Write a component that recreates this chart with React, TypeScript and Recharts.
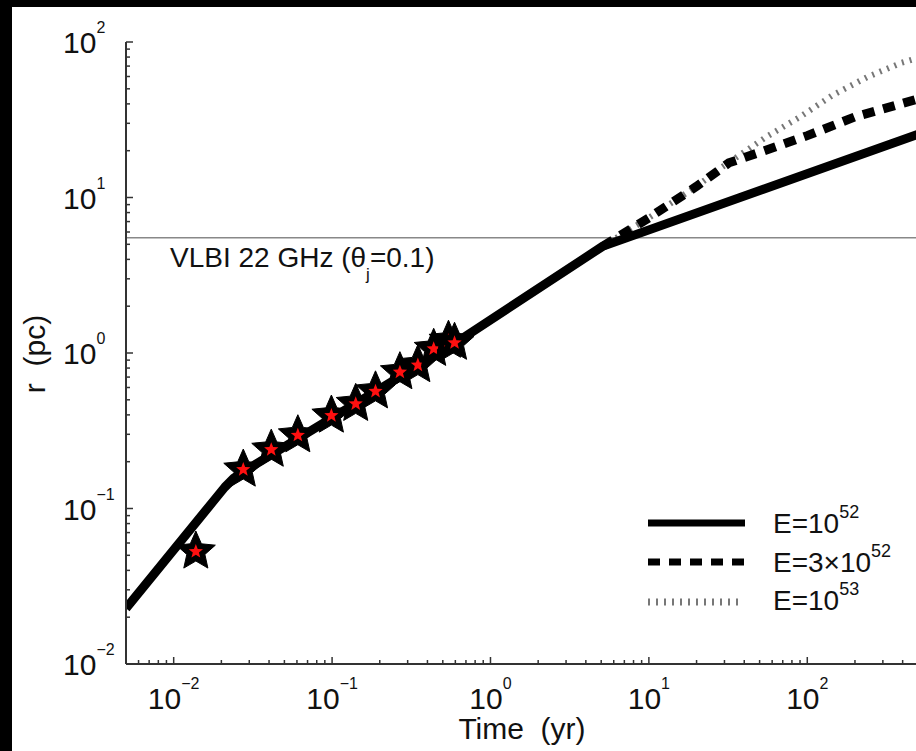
import React from "react";
import { ComposedChart, Line, Scatter, XAxis, YAxis, ReferenceLine, Legend } from "recharts";

// model curves, r (pc) vs time (yr)
const solidT = [0.005, 0.018, 0.021, 0.024, 0.028, 0.6, 5.1, 500];
const solidR = [0.0228, 0.113, 0.137, 0.157, 0.174, 1.16, 4.85, 25.5];

const dashT = [5.1, 10, 20, 32, 60, 100, 200, 500];
const dashR = [4.85, 7.4, 11.8, 16.7, 20.8, 25, 33, 43];

const dotT = [5.1, 10, 20, 29, 55, 90, 145, 240, 390, 500];
const dotR = [4.85, 7.4, 11.8, 15.7, 24.5, 33, 45.6, 59.6, 73.3, 79];

// observed sizes
const starT = [0.0138, 0.0275, 0.0413, 0.0608, 0.099, 0.141, 0.188, 0.268, 0.348, 0.438, 0.543, 0.593];
const starR = [0.0529, 0.178, 0.239, 0.296, 0.396, 0.471, 0.567, 0.753, 0.836, 1.064, 1.2, 1.164];

const vlbiR = 5.5;

const xMajor = [0.01, 0.1, 1, 10, 100];
const xExp = ["\u22122", "\u22121", "0", "1", "2"];
const yMajor = [0.01, 0.1, 1, 10, 100];
const yExp = ["\u22122", "\u22121", "0", "1", "2"];
const decades = [0.001, 0.01, 0.1, 1, 10, 100];

const legendNames = ["E=10", "E=3\u00d710", "E=10"];
const legendExp = ["52", "52", "53"];

const FONT = "'Liberation Sans', Arial, Helvetica, sans-serif";
const AXIS = "#333";

const toRows = (t: number[], r: number[]) => t.map((v, i) => ({ t: v, r: r[i] }));
const solidData = toRows(solidT, solidR);
const dashData = toRows(dashT, dashR);
const dotData = toRows(dotT, dotR);
const starData = toRows(starT, starR);

function tickValues(lo: number, hi: number) {
  const out: number[] = [];
  for (const d of decades) {
    for (let m = 1; m <= 9; m++) {
      const v = Number((d * m).toPrecision(6));
      if (v >= lo * 0.999999 && v <= hi * 1.000001) out.push(v);
    }
  }
  return out;
}
const xTicks = tickValues(0.005, 500);
const yTicks = tickValues(0.01, 100);

const majorIndex = (v: number, majors: number[]) => majors.findIndex((m) => Math.abs(v / m - 1) < 1e-6);

const BottomTick = (props: any) => {
  const { x, y, payload } = props;
  const i = majorIndex(payload.value, xMajor);
  return (
    <g>
      <line x1={x} x2={x} y1={y} y2={y - (i >= 0 ? 7 : 4)} stroke={AXIS} strokeWidth={1.5} />
      {i >= 0 && (
        <text x={x} y={y + 45} textAnchor="middle" fontSize={30} fontFamily={FONT} fill="#111">
          10<tspan dy={-20} fontSize={16}>{xExp[i]}</tspan>
        </text>
      )}
    </g>
  );
};

const TopTick = (props: any) => {
  const { x, y, payload } = props;
  const i = majorIndex(payload.value, xMajor);
  return <line x1={x} x2={x} y1={y} y2={y + (i >= 0 ? 7 : 4)} stroke={AXIS} strokeWidth={1.5} />;
};

const LeftTick = (props: any) => {
  const { x, y, payload } = props;
  const i = majorIndex(payload.value, yMajor);
  return (
    <g>
      <line x1={x} x2={x + (i >= 0 ? 7 : 4)} y1={y} y2={y} stroke={AXIS} strokeWidth={1.5} />
      {i >= 0 && (
        <text x={x - 63} y={y + 11} textAnchor="start" fontSize={30} fontFamily={FONT} fill="#111">
          10<tspan dy={-20} fontSize={16}>{yExp[i]}</tspan>
        </text>
      )}
    </g>
  );
};

const RightTick = (props: any) => {
  const { x, y, payload } = props;
  const i = majorIndex(payload.value, yMajor);
  return <line x1={x} x2={x - (i >= 0 ? 7 : 4)} y1={y} y2={y} stroke={AXIS} strokeWidth={1.5} />;
};

const starPath = (cx: number, cy: number, R: number, r: number) => {
  let d = "";
  for (let k = 0; k < 10; k++) {
    const a = -Math.PI / 2 + (k * Math.PI) / 5;
    const rad = k % 2 === 0 ? R : r;
    d += (k ? "L" : "M") + (cx + rad * Math.cos(a)).toFixed(2) + "," + (cy + rad * Math.sin(a)).toFixed(2);
  }
  return d + "Z";
};

const StarShape = (props: any) => {
  const { cx, cy } = props;
  if (cx == null || cy == null) return null;
  return (
    <g>
      <path d={starPath(cx, cy, 20.5, 9.5)} fill="#000" stroke="#000" strokeWidth={1} strokeLinejoin="miter" />
      <path d={starPath(cx, cy, 7.5, 3.2)} fill="#ff1010" />
    </g>
  );
};

const LegendBox = () => (
  <svg width={270} height={120} style={{ display: "block" }}>
    <line x1={8} x2={105} y1={23} y2={23} stroke="#000" strokeWidth={7} />
    <line x1={8} x2={105} y1={62} y2={62} stroke="#000" strokeWidth={7} strokeDasharray="12 9" />
    <line x1={8} x2={99} y1={102} y2={102} stroke="#777" strokeWidth={7} strokeDasharray="2 6" />
    {legendNames.map((n, i) => (
      <text key={i} x={133} y={33 + i * 38.5} fontSize={28} fontFamily={FONT} fill="#111">
        {n}
        <tspan dy={-15} fontSize={18}>{legendExp[i]}</tspan>
      </text>
    ))}
  </svg>
);

const VlbiLabel = (props: any) => {
  const vb = props.viewBox || {};
  return (
    <text x={vb.x + 44} y={vb.y + 29} fontSize={28} fontFamily={FONT} fill="#111">
      VLBI 22 GHz (θ<tspan dy={13} fontSize={17}>j</tspan>
      <tspan dy={-13} fontSize={28}>=0.1)</tspan>
    </text>
  );
};

const XTitle = (props: any) => {
  const vb = props.viewBox || {};
  return (
    <text x={vb.x + vb.width / 2} y={vb.y + 75} textAnchor="middle" fontSize={30} fontFamily={FONT} fill="#111" style={{ whiteSpace: "pre" }}>
      {"Time  (yr)"}
    </text>
  );
};

const YTitle = (props: any) => {
  const vb = props.viewBox || {};
  const cx = vb.x + 33;
  const cy = vb.y + vb.height / 2 + 1;
  return (
    <text x={cx} y={cy} transform={`rotate(-90, ${cx}, ${cy})`} textAnchor="middle" fontSize={30} fontFamily={FONT} fill="#111" style={{ whiteSpace: "pre" }}>
      {"r  (pc)"}
    </text>
  );
};

const App = () => {
  return (
    <div style={{ position: "absolute", left: 0, top: 0, width: 916, height: 751, background: "#000", overflow: "hidden" }}>
      <div style={{ position: "absolute", left: 12, top: 7, width: 910, height: 744, background: "#fff" }}>
        <ComposedChart width={910} height={744} margin={{ top: 35, right: 4, bottom: 0, left: 0 }}>
          <XAxis
            xAxisId="bottom"
            dataKey="t"
            type="number"
            scale="log"
            domain={[0.005, 500]}
            allowDataOverflow
            ticks={xTicks}
            interval={0}
            tickSize={0}
            tickMargin={0}
            tick={<BottomTick />}
            tickLine={false}
            axisLine={{ stroke: AXIS, strokeWidth: 2 }}
            height={87}
            label={{ content: <XTitle /> }}
          />
          <XAxis
            xAxisId="top"
            orientation="top"
            dataKey="t"
            type="number"
            scale="log"
            domain={[0.005, 500]}
            allowDataOverflow
            ticks={xTicks}
            interval={0}
            tickSize={0}
            tickMargin={0}
            tick={<TopTick />}
            tickLine={false}
            axisLine={{ stroke: AXIS, strokeWidth: 2 }}
            height={0}
          />
          <YAxis
            yAxisId="left"
            dataKey="r"
            type="number"
            scale="log"
            domain={[0.01, 100]}
            allowDataOverflow
            ticks={yTicks}
            interval={0}
            tickSize={0}
            tickMargin={0}
            tick={<LeftTick />}
            tickLine={false}
            axisLine={{ stroke: AXIS, strokeWidth: 2 }}
            width={114}
            label={{ content: <YTitle /> }}
          />
          <YAxis
            yAxisId="right"
            orientation="right"
            dataKey="r"
            type="number"
            scale="log"
            domain={[0.01, 100]}
            allowDataOverflow
            ticks={yTicks}
            interval={0}
            tickSize={0}
            tickMargin={0}
            tick={<RightTick />}
            tickLine={false}
            axisLine={{ stroke: AXIS, strokeWidth: 2 }}
            width={0}
          />
          <ReferenceLine
            xAxisId="bottom"
            yAxisId="left"
            y={vlbiR}
            stroke="#888"
            strokeWidth={1.5}
            label={<VlbiLabel />}
          />
          <Line
            xAxisId="bottom"
            yAxisId="left"
            data={dotData}
            dataKey="r"
            type="linear"
            stroke="#777"
            strokeWidth={6}
            strokeDasharray="2 6"
            dot={false}
            activeDot={false}
            isAnimationActive={false}
          />
          <Line
            xAxisId="bottom"
            yAxisId="left"
            data={solidData}
            dataKey="r"
            type="linear"
            stroke="#000"
            strokeWidth={9}
            strokeLinejoin="round"
            dot={false}
            activeDot={false}
            isAnimationActive={false}
          />
          <Line
            xAxisId="bottom"
            yAxisId="left"
            data={dashData}
            dataKey="r"
            type="linear"
            stroke="#000"
            strokeWidth={9}
            strokeDasharray="12 9"
            dot={false}
            activeDot={false}
            isAnimationActive={false}
          />
          <Scatter
            xAxisId="bottom"
            yAxisId="left"
            data={starData}
            dataKey="r"
            shape={<StarShape />}
            isAnimationActive={false}
          />
          <Legend
            layout="vertical"
            align="center"
            verticalAlign="middle"
            wrapperStyle={{ left: 628, top: 493, width: 270, height: 120 }}
            content={() => <LegendBox />}
          />
        </ComposedChart>
      </div>
    </div>
  );
};

export default App;
